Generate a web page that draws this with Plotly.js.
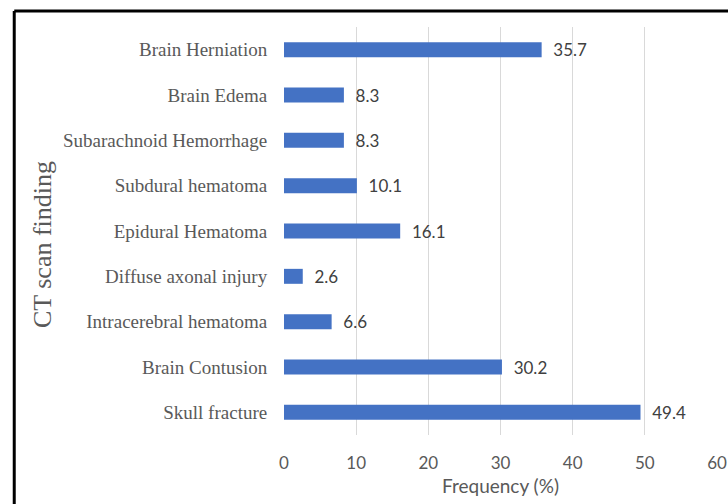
<!DOCTYPE html>
<html>
<head>
<meta charset="utf-8">
<script src="https://cdn.plot.ly/plotly-3.0.1.min.js"></script>
<style>html,body{margin:0;padding:0;background:#fff;}#chart{width:728px;height:504px;}</style>
</head>
<body>
<div id="chart"></div>
<script>
const categories = ["Skull fracture", "Brain Contusion", "Intracerebral hematoma", "Diffuse axonal injury", "Epidural Hematoma", "Subdural hematoma", "Subarachnoid Hemorrhage", "Brain Edema", "Brain Herniation"];
const frequency = [49.4, 30.2, 6.6, 2.6, 16.1, 10.1, 8.3, 8.3, 35.7];
const xTicks = [0, 10, 20, 30, 40, 50, 60];

const trace = {
  type: "bar",
  orientation: "h",
  y: categories,
  x: frequency,
  width: 0.33,
  marker: {color: "#4472C4"},
  text: frequency.map(v => v.toFixed(1)),
  texttemplate: "  %{text}",
  textposition: "outside",
  constraintext: "none",
  cliponaxis: false,
  textfont: {family: "Lato, 'Open Sans', sans-serif", size: 17, color: "#404040"},
  hoverinfo: "none"
};

const layout = {
  width: 728, height: 504,
  margin: {l: 283.5, r: 10.5, t: 27, b: 69},
  paper_bgcolor: "#ffffff",
  plot_bgcolor: "#ffffff",
  showlegend: false,
  bargap: 0.67,
  xaxis: {
    range: [0, 60],
    tickvals: xTicks,
    ticktext: xTicks.map(String),
    showgrid: true, gridcolor: "#d9d9d9", gridwidth: 1,
    zeroline: false, showline: false,
    ticks: "outside", ticklen: 13, tickcolor: "rgba(0,0,0,0)",
    tickfont: {family: "Lato, 'Open Sans', sans-serif", size: 17, color: "#595959"},
    title: {text: "Frequency (%)", font: {family: "Lato, 'Open Sans', sans-serif", size: 19, color: "#595959"}, standoff: 7}
  },
  yaxis: {
    type: "category",
    categoryorder: "array", categoryarray: categories,
    showgrid: false, zeroline: false, showline: false,
    ticks: "outside", ticklen: 12, tickcolor: "rgba(0,0,0,0)",
    tickfont: {family: "'Liberation Serif', 'DejaVu Serif', serif", size: 19, color: "#595959"}
  },
  annotations: [{
    text: "CT scan finding",
    xref: "paper", yref: "paper",
    x: -0.5565, y: 0.4657,
    xanchor: "center", yanchor: "middle",
    textangle: -90, showarrow: false,
    font: {family: "'Liberation Serif', 'DejaVu Serif', serif", size: 26, color: "#595959"}
  }],
  shapes: [
    {type: "line", xref: "paper", yref: "paper", x0: -0.623, x1: 1.05, y0: 1.039, y1: 1.039, line: {color: "#000000", width: 3}},
    {type: "line", xref: "paper", yref: "paper", x0: -0.623, x1: -0.623, y0: 1.039, y1: -0.3, line: {color: "#000000", width: 3}}
  ]
};

Plotly.newPlot("chart", [trace], layout, {displayModeBar: false, staticPlot: true});
</script>
</body>
</html>
